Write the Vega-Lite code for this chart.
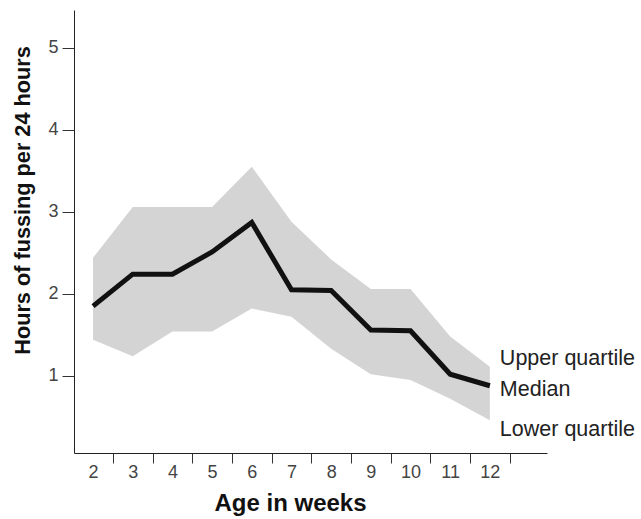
{
  "$schema": "https://vega.github.io/schema/vega-lite/v6.json",
  "width": 473,
  "height": 443,
  "autosize": "none",
  "padding": {"left": 74, "top": 10, "right": 94, "bottom": 66},
  "background": "white",
  "config": {
    "view": {"stroke": null},
    "font": "Liberation Sans",
    "axis": {"grid": false, "domainColor": "#222", "tickColor": "#333", "labelColor": "#444", "titleColor": "#111", "labelFont": "Liberation Sans", "titleFont": "Liberation Sans"}
  },
  "datasets": {
    "fuss": [
      {"week": 2, "lower": 1.44, "median": 1.85, "upper": 2.44},
      {"week": 3, "lower": 1.24, "median": 2.24, "upper": 3.06},
      {"week": 4, "lower": 1.54, "median": 2.24, "upper": 3.06},
      {"week": 5, "lower": 1.54, "median": 2.51, "upper": 3.06},
      {"week": 6, "lower": 1.82, "median": 2.87, "upper": 3.55},
      {"week": 7, "lower": 1.72, "median": 2.05, "upper": 2.88},
      {"week": 8, "lower": 1.33, "median": 2.04, "upper": 2.42},
      {"week": 9, "lower": 1.02, "median": 1.56, "upper": 2.06},
      {"week": 10, "lower": 0.95, "median": 1.55, "upper": 2.06},
      {"week": 11, "lower": 0.72, "median": 1.02, "upper": 1.48},
      {"week": 12, "lower": 0.46, "median": 0.88, "upper": 1.11}
    ],
    "labels": [
      {"week": 12, "pos": 1.2, "text": "Upper quartile"},
      {"week": 12, "pos": 0.83, "text": "Median"},
      {"week": 12, "pos": 0.34, "text": "Lower quartile"}
    ]
  },
  "layer": [
    {
      "data": {"name": "fuss"},
      "mark": {"type": "area", "color": "#d4d4d4"},
      "encoding": {
        "x": {
          "field": "week", "type": "quantitative",
          "scale": {"domain": [1.52, 13.44], "nice": false, "zero": false},
          "axis": {
            "values": [2, 3, 4, 5, 6, 7, 8, 9, 10, 11, 12],
            "tickOffset": 19.84, "labelOffset": -19.84, "tickSize": 10, "labelFontSize": 18, "labelPadding": 0,
            "title": "Age in weeks", "titleFontSize": 24, "titleFontWeight": "bold",
            "titleX": 216, "titlePadding": 10
          }
        },
        "y": {
          "field": "lower", "type": "quantitative",
          "scale": {"domain": [0.06, 5.46], "nice": false, "zero": false},
          "axis": {
            "values": [1, 2, 3, 4, 5], "format": "d", "tickSize": 12, "labelFontSize": 18, "labelPadding": 4,
            "title": "Hours of fussing per 24 hours", "titleFontSize": 21.7, "titleFontWeight": "bold",
            "titleX": -40, "titleY": 190
          }
        },
        "y2": {"field": "upper"}
      }
    },
    {
      "data": {"name": "fuss"},
      "mark": {"type": "line", "color": "#111", "strokeWidth": 5, "strokeJoin": "miter"},
      "encoding": {
        "x": {"field": "week", "type": "quantitative"},
        "y": {"field": "median", "type": "quantitative"}
      }
    },
    {
      "data": {"name": "labels"},
      "mark": {"type": "text", "align": "left", "baseline": "middle", "dx": 10, "fontSize": 21.5, "color": "#222", "font": "Liberation Sans"},
      "encoding": {
        "x": {"field": "week", "type": "quantitative"},
        "y": {"field": "pos", "type": "quantitative"},
        "text": {"field": "text"}
      }
    }
  ]
}
